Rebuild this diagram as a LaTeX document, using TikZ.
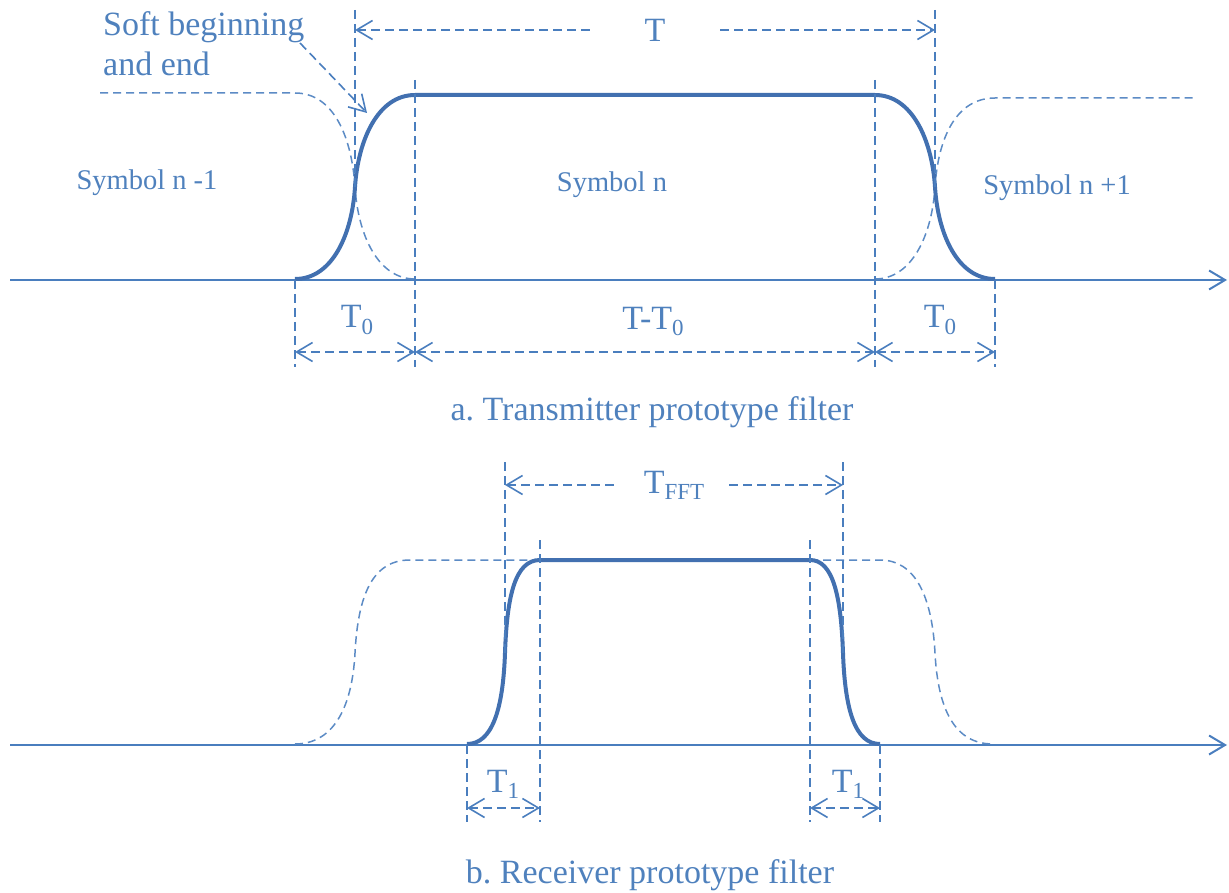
\documentclass[tikz,border=0pt]{standalone}
\usepackage{fontspec}
\setmainfont{Liberation Serif}
\usetikzlibrary{arrows.meta}
\frenchspacing
\definecolor{txtblue}{RGB}{79,129,189}
\definecolor{lineblue}{RGB}{74,126,190}
\definecolor{pulseblue}{RGB}{66,112,176}
\newcommand{\lowsub}[1]{\raisebox{-6pt}{\fontsize{23}{23}\selectfont #1}}
\tikzset{
  axisline/.style={lineblue, line width=2pt},
  pulse/.style={pulseblue, line width=4pt},
  nbcurve/.style={lineblue!90, line width=1.5pt, dash pattern=on 8pt off 5pt},
  vguide/.style={lineblue, line width=1.6pt, dash pattern=on 9pt off 5pt},
  dimline/.style={lineblue, line width=1.6pt, dash pattern=on 9pt off 5pt},
  dimlabel/.style={txtblue, inner sep=0pt, font=\fontsize{34}{40}\selectfont},
  symlabel/.style={txtblue, inner sep=0pt, anchor=base, font=\fontsize{28.5}{34}\selectfont},
  caption/.style={txtblue, inner sep=0pt, anchor=base, font=\fontsize{34}{40}\selectfont}
}
\begin{document}
\begin{tikzpicture}[x=1pt, y=-1pt, >={Straight Barb[length=16pt,width=19pt]}]
\useasboundingbox (0,0) rectangle (1229,893);

% a. transmitter prototype filter
\coordinate (axA0) at (10,280);
\coordinate (axA1) at (1227,280);
\draw[axisline,->] (axA0) -- (axA1);
% neighbouring symbols
\draw[nbcurve] (100,93) -- (295,93) .. controls (335,93) and (352,140) .. (355,187)
  .. controls (358,235) and (378,279) .. (415,279);
\draw[nbcurve] (875,279) .. controls (912,279) and (932,235) .. (935,187)
  .. controls (938,140) and (955,98) .. (995,98) -- (1195,98);
% symbol n
\draw[pulse] (295,279) .. controls (332,279) and (352,235) .. (355,187)
  .. controls (358,140) and (378,95) .. (415,95) -- (875,95)
  .. controls (912,95) and (932,140) .. (935,187)
  .. controls (938,235) and (958,279) .. (995,279);
% guides
\foreach \x/\ya/\yb in {355/10/190, 935/10/190, 415/80/367, 875/80/367, 295/280/367, 995/280/367}
  \draw[vguide] (\x,\ya) -- (\x,\yb);
% T
\coordinate (tA) at (355,30);
\coordinate (tB) at (935,30);
\node[dimlabel, minimum width=130pt] (Tlab) at (655,30) {T};
\draw[dimline,<-] (tA) -- (Tlab);
\draw[dimline,->] (Tlab) -- (tB);
% T0 / T-T0
\coordinate (a0) at (295,352);
\coordinate (a1) at (415,352);
\coordinate (a2) at (875,352);
\coordinate (a3) at (995,352);
\draw[dimline,<->] (a0) -- (a1);
\draw[dimline,<->] (a1) -- (a2);
\draw[dimline,<->] (a2) -- (a3);
\node[dimlabel, anchor=base] (t0l) at (357,328) {T\lowsub{0}};
\node[dimlabel, anchor=base] (ttl) at (653,330) {T-T\lowsub{0}};
\node[dimlabel, anchor=base] (t0r) at (940,328) {T\lowsub{0}};
% labels
\node[symlabel] (symA) at (147,190) {Symbol n -1};
\node[symlabel] (symB) at (612,192) {Symbol n};
\node[symlabel] (symC) at (1057,195) {Symbol n +1};
\node[txtblue, inner sep=0pt, anchor=north west, align=left,
  font=\fontsize{34}{40}\selectfont] (soft) at (103,11) {Soft beginning\\and end};
\coordinate (softtail) at (300,43);
\coordinate (softtip) at (367,113);
\draw[dimline,->] (softtail) -- (softtip);
\node[caption] (capA) at (652,420) {a. Transmitter prototype filter};

% b. receiver prototype filter
\coordinate (axB0) at (10,745);
\coordinate (axB1) at (1227,745);
\draw[axisline,->] (axB0) -- (axB1);
% neighbouring symbols
\draw[nbcurve] (295,744) .. controls (332,744) and (352,710) .. (355,653)
  .. controls (358,596) and (372,560) .. (410,560) -- (540,560);
\draw[nbcurve] (810,560) -- (880,560) .. controls (915,560) and (932,596) .. (935,653)
  .. controls (938,710) and (955,744) .. (993,744);
% symbol n
\draw[pulse] (467,744) .. controls (492,744) and (503,710) .. (505,653)
  .. controls (507,596) and (515,560) .. (540,560) -- (810,560)
  .. controls (833,560) and (841,596) .. (843,653)
  .. controls (845,710) and (855,744) .. (880,744);
% guides
\foreach \x/\ya/\yb in {505/462/653, 843/462/653, 467/745/822, 540/540/822, 810/540/822, 880/745/822}
  \draw[vguide] (\x,\ya) -- (\x,\yb);
% TFFT
\coordinate (fA) at (505,485);
\coordinate (fB) at (843,485);
\node[dimlabel, minimum width=110pt] (Tfft) at (674,485) {T\lowsub{FFT}};
\draw[dimline,<-] (fA) -- (Tfft);
\draw[dimline,->] (Tfft) -- (fB);
% T1
\coordinate (b0) at (467,808);
\coordinate (b1) at (540,808);
\coordinate (b2) at (810,808);
\coordinate (b3) at (880,808);
\draw[dimline,<->] (b0) -- (b1);
\draw[dimline,<->] (b2) -- (b3);
\node[dimlabel, anchor=base] (t1l) at (503,792) {T\lowsub{1}};
\node[dimlabel, anchor=base] (t1r) at (848,792) {T\lowsub{1}};
\node[caption] (capB) at (650,883) {b. Receiver prototype filter};
\end{tikzpicture}
\end{document}
